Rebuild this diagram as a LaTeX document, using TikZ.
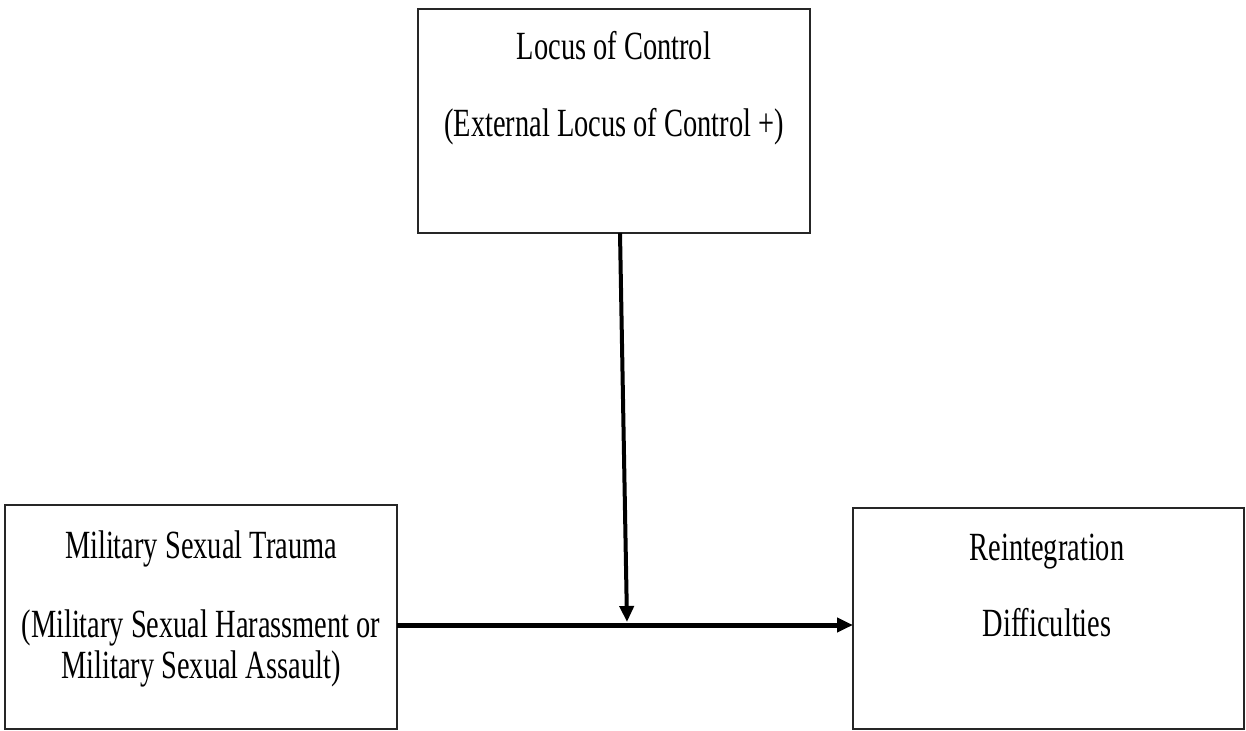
\documentclass[tikz,border=0pt]{standalone}
\usepackage{fontspec}
\setmainfont[FakeStretch=0.71]{Liberation Serif}
\usetikzlibrary{arrows.meta}
\begin{document}
\begin{tikzpicture}[x=1pt,y=1pt,
  box/.style={draw=black!85, line width=1.3pt, rectangle, inner sep=0pt},
  txt/.style={anchor=base, inner sep=0pt, font=\fontsize{40}{46}\selectfont},
  conn/.style={line width=#1, -{Triangle[length=16pt,width=14pt]}}]
\useasboundingbox (0,0) rectangle (1246,-730);
% boxes
\node[box, minimum width=392pt, minimum height=224pt] (loc) at (614,-121) {};
\node[box, minimum width=392pt, minimum height=224pt] (mst) at (201,-617) {};
\node[box, minimum width=391pt, minimum height=221pt] (rid) at (1048.5,-618.5) {};
% texts
\node[txt] (l1) at (614,-60) {Locus of Control};
\node[txt] (l2) at (614,-137) {(External Locus of Control +)};
\node[txt] (m1) at (201,-558) {Military Sexual Trauma};
\node[txt] (m2) at (201,-637) {(Military Sexual Harassment or};
\node[txt] (m3) at (201,-678) {Military Sexual Assault)};
\node[txt] (r1) at (1047,-560) {Reintegration};
\node[txt] (r2) at (1047,-636) {Difficulties};
% connectors
\coordinate (vs) at (620,-233);
\coordinate (ve) at (627,-622);
\coordinate (hs) at (397,-625);
\coordinate (he) at (853,-625);
\draw[conn=5pt] (hs) -- (he);
\draw[conn=4pt] (vs) -- (ve);
\end{tikzpicture}
\end{document}
